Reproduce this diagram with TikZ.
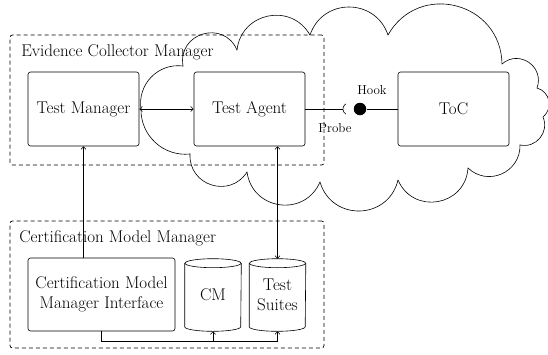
\documentclass[tikz,border=0pt]{standalone}
\usetikzlibrary{arrows.meta}

\begin{document}
\begin{tikzpicture}[x=1pt,y=-1pt,
  line width=0.6pt,
  >={Straight Barb[length=2.6pt,width=5pt]},
  txt/.style={font=\fontsize{17}{20}\selectfont},
  comp/.style={txt, draw, rounded corners=2.5pt, minimum width=111pt,
    minimum height=74pt, inner sep=0pt, align=center},
  store/.style={txt, minimum width=56pt, minimum height=72pt, inner sep=0pt,
    align=center},
  group/.style={draw, line width=0.7pt, dash pattern=on 4pt off 3pt,
    rounded corners=2.5pt, inner sep=0pt},
  grouplabel/.style={txt, anchor=west, inner sep=0pt},
  small/.style={font=\fontsize{13}{15}\selectfont, inner sep=0pt}]

\useasboundingbox (0,0) rectangle (548,354);

% groups
\node[group, minimum width=314pt, minimum height=130pt] (ecm) at (167,100) {};
\node[group, minimum width=314pt, minimum height=127pt] (cmm) at (167,284.5) {};
\node[grouplabel] (ecmlabel) at (21,52) {Evidence Collector Manager};
\node[grouplabel] (cmmlabel) at (19,238) {Certification Model Manager};

% components
\node[comp] (tm) at (83.5,109) {Test Manager};
\node[comp] (ta) at (249.5,109) {Test Agent};
\node[comp] (toc) at (453.5,109) {ToC};
\node[comp, minimum width=147pt, minimum height=73pt] (cmmi) at (101.5,294.5)
  {Certification Model\\Manager Interface};

% data stores
\node[store] (cm) at (213,295) {CM};
\node[store] (ts) at (277.5,295) {Test\\Suites};
\foreach \s in {cm,ts}{
  \draw ([yshift=-4.5pt]\s.north) ellipse[x radius=28pt, y radius=4.5pt];
  \draw ([yshift=-4.5pt]\s.north west) -- ([yshift=4.5pt]\s.south west)
    arc[start angle=180, end angle=360, x radius=28pt, y radius=4.5pt]
    -- ([yshift=-4.5pt]\s.north east);
}

% probe and hook
\coordinate (sock) at (349,109);
\coordinate (socktip) at (343,109);
\draw ([shift={(120:6pt)}]sock) arc[start angle=120, end angle=240, radius=6pt];
\node[circle, fill, inner sep=0pt, minimum size=12.5pt] (hook) at (360,109) {};
\node[small] (hooklabel) at (372,90) {Hook};
\node[small] (probelabel) at (335,128) {Probe};

% connectors
\draw[<->] (tm.east) -- (ta.west);
\draw (ta.east) -- (socktip);
\draw (hook) -- (toc.west);
\draw[->] (tm.south |- cmmi.north) -- (tm.south);
\draw[<->] (ts.north |- ta.south) -- (ts.north);
\coordinate (bus) at (0,341);
\draw[->] (cmmi.south) -- (cmmi.south |- bus) -| (ts.south);
\draw[->] (cm.south |- bus) -- (cm.south);

% cloud: each puff is a circular arc from one dent to the next,
% given as start x/y, sagitta, end x/y (clockwise)
\foreach \px/\py/\ph/\qx/\qy in {
    183/66/25/237/50, 237/50/27/310/35, 310/35/28/388/35,
    388/35/45/502/64, 502/64/16.5/537/88, 537/88/9/543/117,
    543/117/11/520/145, 520/145/19/468/168, 468/168/28/398/180,
    398/180/30/320/182, 320/182/28/247/172, 247/172/23/190/154,
    190/154/15/141/109, 141/109/15/183/66}{
  \pgfmathsetmacro\pdx{\qx-\px}
  \pgfmathsetmacro\pdy{\qy-\py}
  \pgfmathsetmacro\plen{veclen(\pdx,\pdy)}
  \pgfmathsetmacro\pux{\pdx/\plen}
  \pgfmathsetmacro\puy{\pdy/\plen}
  \pgfmathsetmacro\pnx{\puy}
  \pgfmathsetmacro\pny{0-\pux}
  \pgfmathsetmacro\phalf{\plen/2}
  \pgfmathsetmacro\pth{2*atan(\ph/\phalf)}
  \pgfmathsetmacro\prad{(\phalf*\phalf+\ph*\ph)/(2*\ph)}
  \pgfmathsetmacro\pctl{4/3*\ph/\phalf*\prad}
  \pgfmathsetmacro\cax{\px+\pctl*(cos(\pth)*\pux+sin(\pth)*\pnx)}
  \pgfmathsetmacro\cay{\py+\pctl*(cos(\pth)*\puy+sin(\pth)*\pny)}
  \pgfmathsetmacro\cbx{\qx+\pctl*(sin(\pth)*\pnx-cos(\pth)*\pux)}
  \pgfmathsetmacro\cby{\qy+\pctl*(sin(\pth)*\pny-cos(\pth)*\puy)}
  \draw[line cap=round] (\px,\py) .. controls (\cax,\cay) and (\cbx,\cby) .. (\qx,\qy);
}

\end{tikzpicture}
\end{document}
